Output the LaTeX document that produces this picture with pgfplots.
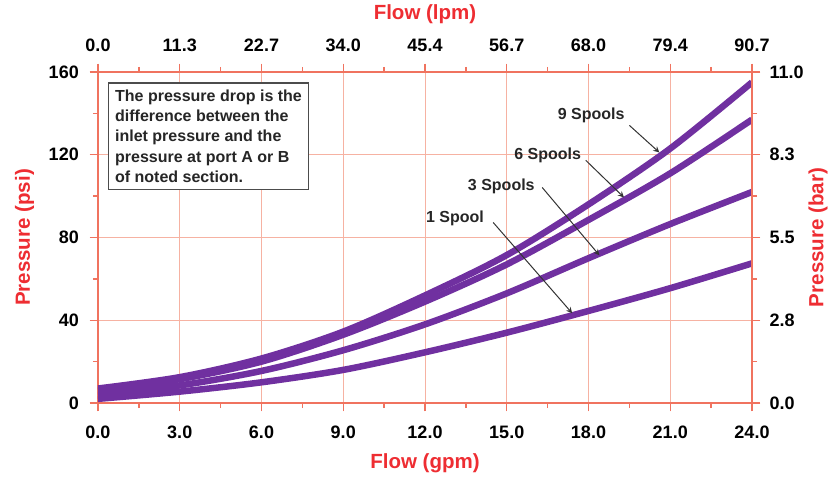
\documentclass[border=0pt]{standalone}
\usepackage{pgfplots}
\pgfplotsset{compat=1.18}
\usepackage{fontspec}
\setmainfont{Liberation Sans}

\definecolor{axred}{RGB}{240,115,95}
\definecolor{gridred}{RGB}{246,178,162}
\definecolor{labred}{RGB}{238,45,50}
\definecolor{spool}{RGB}{112,48,160}

\tikzset{lab/.style={font=\fontsize{12.3}{14}\selectfont\bfseries, text=labred, anchor=center}}
\pgfplotsset{
  spoolaxis/.style={
    scale only axis, width=392.4pt, height=198.6pt,
    xmin=0, xmax=24, ymin=0, ymax=160,
    xtick={0,3,...,24}, ytick={0,40,...,160},
    minor xtick={1.5,4.5,...,22.5}, minor ytick={20,60,100,140},
    tick align=outside,
    major tick length=5pt, minor tick length=3pt,
    every tick/.style={axred, line width=0.8pt},
    axis line style={axred, line width=1.2pt},
    tick label style={font=\fontsize{10.8}{12}\selectfont\bfseries},
  },
  curve/.style={smooth, spool, line width=3.9pt, no markers},
}

\begin{document}
\begin{tikzpicture}
% gpm / psi
\begin{axis}[spoolaxis,
  axis x line*=bottom, axis y line*=left,
  grid=major, grid style={gridred, line width=0.6pt},
  xticklabels={0.0,3.0,6.0,9.0,12.0,15.0,18.0,21.0,24.0},
  yticklabels={0,40,80,120,160},
  xticklabel style={yshift=-5pt},
  yticklabel style={xshift=-3pt},
  xlabel={Flow (gpm)}, ylabel={Pressure (psi)},
  every axis x label/.style={lab, at={(axis description cs:0.5,0)}, yshift=-36pt},
  every axis y label/.style={lab, at={(axis description cs:0,0.5)}, xshift=-44pt, rotate=90},
]
% 1 spool
\addplot[curve] coordinates {
  (0,2) (3,5.5) (6,10) (9,16) (12,24.5) (15,34) (18,44.5) (21,55.5) (24,67.5)
};
% 3 spools
\addplot[curve] coordinates {
  (0,4) (3,8.5) (6,15.5) (9,25.5) (12,38) (15,53) (18,70) (21,86.5) (24,102)
};
% 6 spools
\addplot[curve] coordinates {
  (0,6) (3,11.5) (6,20) (9,33) (12,49) (15,67) (18,88.5) (21,111) (24,137)
};
% 9 spools
\addplot[curve] coordinates {
  (0,7) (3,12.5) (6,21.5) (9,34.5) (12,52) (15,71.5) (18,96) (21,123) (24,155)
};

\node[draw=black!70, fill=white, line width=0.8pt, anchor=north west, align=left,
      inner sep=4pt, text=black!85, font=\fontsize{9.6}{12.2}\selectfont\bfseries]
  at (axis cs:0.36,155) {The pressure drop is the\\difference between the\\inlet pressure and the\\pressure at port A or B\\of noted section.};

\begin{scope}[every node/.style={font=\fontsize{9.6}{11}\selectfont\bfseries, text=black!85}]
\node at (axis cs:18.1,139) {9 Spools};
\node at (axis cs:16.5,119.7) {6 Spools};
\node at (axis cs:14.8,104.6) {3 Spools};
\node at (axis cs:13.1,89.2) {1 Spool};
\end{scope}
\begin{scope}[-stealth, black!80, line width=0.6pt]
\draw (axis cs:19.5,134.2) -- (axis cs:20.6,121.1);
\draw (axis cs:17.9,117.3) -- (axis cs:19.3,99.4);
\draw (axis cs:16.3,104.2) -- (axis cs:18.4,71.4);
\draw (axis cs:14.5,87.3) -- (axis cs:17.4,43.4);
\end{scope}
\end{axis}

% lpm / bar
\begin{axis}[spoolaxis,
  axis x line*=top, axis y line*=right,
  xticklabels={0.0,11.3,22.7,34.0,45.4,56.7,68.0,79.4,90.7},
  yticklabels={0.0,2.8,5.5,8.3,11.0},
  xticklabel style={yshift=3.5pt},
  yticklabel style={xshift=2pt},
  xlabel={Flow (lpm)}, ylabel={Pressure (bar)},
  every axis x label/.style={lab, at={(axis description cs:0.5,1)}, yshift=34.8pt},
  every axis y label/.style={lab, at={(axis description cs:1,0.5)}, xshift=39.6pt, rotate=90},
]
\coordinate (sw) at (rel axis cs:0,0);
\coordinate (ne) at (rel axis cs:1,1);
\end{axis}

\pgfresetboundingbox
\path[use as bounding box] ([shift={(-58.8pt,-44.4pt)}]sw) rectangle ([shift={(46.8pt,43.2pt)}]ne);
\end{tikzpicture}
\end{document}
